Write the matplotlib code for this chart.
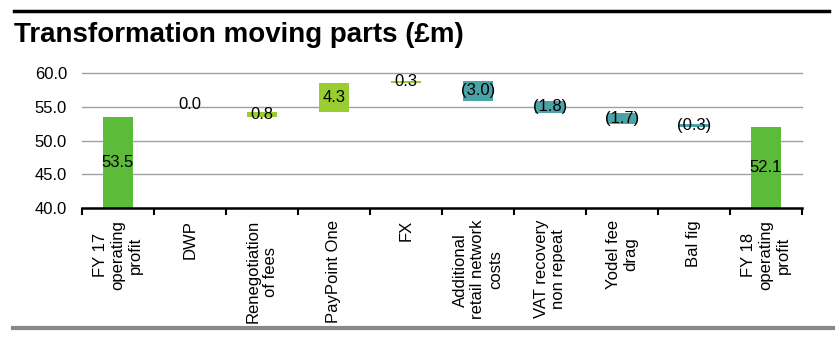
import matplotlib
matplotlib.use("Agg")
import matplotlib.pyplot as plt
from matplotlib.lines import Line2D
import numpy as np

plt.rcParams['font.family'] = ['Liberation Sans', 'DejaVu Sans']

categories = ["FY 17\noperating\nprofit", "DWP", "Renegotiation\nof fees", "PayPoint One", "FX",
              "Additional\nretail network\ncosts", "VAT recovery\nnon repeat", "Yodel fee\ndrag",
              "Bal fig", "FY 18\noperating\nprofit"]
start_value = 53.5
deltas = [0.0, 0.8, 4.3, 0.3, -3.0, -1.8, -1.7, -0.3]
end_value = 52.1
yticks = [40.0, 45.0, 50.0, 55.0, 60.0]

C_TOTAL = "#5DBB3A"
C_UP = "#9ACD32"
C_DOWN = "#4BA3A8"
FS = 12

fig = plt.figure(figsize=(8.4, 3.38), dpi=100)
ax = fig.add_axes([81.7/840, 1-208/338, (802-81.7)/840, (208-73.3)/338])

ymin = yticks[0]
w = 0.42
x = np.arange(len(categories))

def fmt(v):
    return f"({abs(v):.1f})" if v < 0 else f"{v:.1f}"

# start total
ax.bar(x[0], start_value - ymin, bottom=ymin, width=w, color=C_TOTAL, zorder=3)
ax.text(x[0], (ymin + start_value) / 2, fmt(start_value), ha='center', va='center', fontsize=FS, zorder=4)

level = start_value
for i, d in enumerate(deltas, start=1):
    lo, hi = (level, level + d) if d >= 0 else (level + d, level)
    col = C_UP if d > 0 else C_DOWN
    if d != 0:
        ax.bar(x[i], hi - lo, bottom=lo, width=w, color=col, zorder=3)
        ty = (lo + hi) / 2
    else:
        ty = level + 1.8
    ax.text(x[i], ty, fmt(d), ha='center', va='center', fontsize=FS, zorder=4)
    level += d

ax.bar(x[-1], end_value - ymin, bottom=ymin, width=w, color=C_TOTAL, zorder=3)
ax.text(x[-1], (ymin + end_value) / 2, fmt(end_value), ha='center', va='center', fontsize=FS, zorder=4)

ax.set_xlim(-0.5, len(categories) - 0.5)
ax.set_ylim(ymin, yticks[-1])
ax.set_yticks(yticks)
ax.set_yticklabels([f"{t:.1f}" for t in yticks], fontsize=FS)
ax.tick_params(axis='y', length=0, pad=10.5)
for t in yticks[1:]:
    ax.axhline(t, color="#A0A0A0", lw=1.0, zorder=1, clip_on=False)

ax.set_xticks(x)
ax.set_xticklabels(categories, rotation=90, fontsize=FS, ha='center', va='top', multialignment='center')
ax.set_xticks(np.arange(-0.5, len(categories)), minor=True)
ax.tick_params(axis='x', which='major', length=0, pad=8.6)
ax.tick_params(axis='x', which='minor', length=5, width=1.5, color='black', direction='out')

for s in ['top', 'right', 'left']:
    ax.spines[s].set_visible(False)
ax.spines['bottom'].set_linewidth(1.8)
ax.spines['bottom'].set_color('black')
ax.spines['bottom'].set_zorder(5)

fig.text(14/840, 1-41.7/338, "Transformation moving parts (£m)", fontsize=20, fontweight='bold',
         ha='left', va='baseline')

fig.add_artist(Line2D([14/840, 829/840], [1-11/338, 1-11/338], color='black', lw=2.5, transform=fig.transFigure))
fig.add_artist(Line2D([13/840, 833/840], [1-328/338, 1-328/338], color='#888888', lw=3, transform=fig.transFigure))

fig.savefig("out.png", dpi=100)
